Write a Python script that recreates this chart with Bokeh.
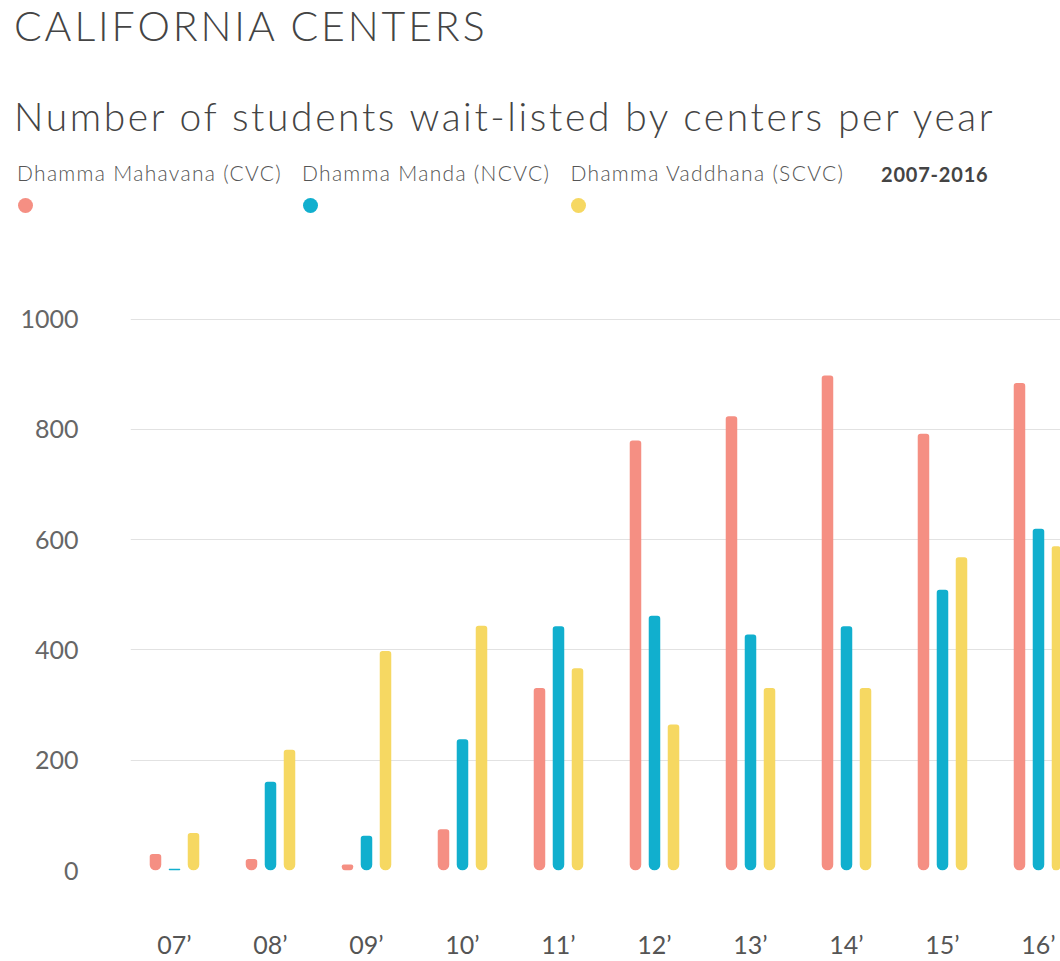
from bokeh.plotting import figure
from bokeh.layouts import column
from bokeh.models import Range1d, FixedTicker, ColumnDataSource, Div
from bokeh.transform import dodge
from bokeh.embed import file_html
from bokeh.resources import INLINE

# ---- data ----
years = ["07’", "08’", "09’", "10’", "11’", "12’", "13’", "14’", "15’", "16’"]
cvc = [30, 21, 11, 75, 331, 780, 824, 898, 792, 884]
ncvc = [3, 161, 63, 238, 443, 462, 428, 443, 509, 620]
scvc = [68, 219, 398, 444, 367, 265, 331, 331, 568, 588]
series_names = ["Dhamma Mahavana (CVC)", "Dhamma Manda (NCVC)", "Dhamma Vaddhana (SCVC)"]
colors = ["#F58F83", "#11AFCE", "#F6D862"]
y_ticks = [0, 200, 400, 600, 800, 1000]
period = "2007-2016"
title = "CALIFORNIA CENTERS"
subtitle = "Number of students wait-listed by centers per year"

FONT = "Lato"

# ---- header (HTML) ----
def txt(s, left, baseline, size, color, weight=300, spacing=0.0, lh=1.2):
    # baseline offset inside a line box of height lh*size for Lato (ascent .987, descent .213)
    top = baseline - (0.987 + (lh - 1.2) / 2) * size
    return (f'<div style="position:absolute;left:{left}px;top:{top:.1f}px;font-family:Lato,sans-serif;'
            f'font-size:{size}px;line-height:{lh};font-weight:{weight};color:{color};'
            f'letter-spacing:{spacing}px;white-space:nowrap;">{s}</div>')

def dot(cx, cy, d, color):
    return (f'<div style="position:absolute;left:{cx - d / 2}px;top:{cy - d / 2}px;width:{d}px;'
            f'height:{d}px;border-radius:50%;background:{color};"></div>')

parts = [txt(title, 14, 41, 41, "#444444", 300, 2.9),
         txt(subtitle, 14, 131, 39, "#444444", 300, 2.6)]
for name, lx, dx, col in zip(series_names, [17, 302, 570.5], [25.5, 310, 578], colors):
    parts.append(txt(name, lx, 181, 21, "#555555", 300, 1.3))
    parts.append(dot(dx, 205, 15, col))
parts.append(txt(period, 881, 182, 20, "#444444", 700, 0.8))
html = ('<div style="position:relative;width:1060px;height:250px;margin:0;padding:0;">'
        + "".join(parts) + "</div>")
header = Div(text=html, width=1060, height=250, margin=(0, 0, 0, 0))

# ---- chart ----
src = ColumnDataSource(dict(x=list(range(len(years))), cvc=cvc, ncvc=ncvc, scvc=scvc))
p = figure(width=1060, height=711, x_range=Range1d(-0.4583, 9.2292), y_range=Range1d(0, 1052),
           output_backend="svg", toolbar_location=None,
           min_border_left=130, min_border_right=0, min_border_top=40, min_border_bottom=84)
p.outline_line_color = None

offs = [-0.198, 0.0, 0.198]
for key, off, col in zip(["cvc", "ncvc", "scvc"], offs, colors):
    p.vbar(x=dodge("x", off), top=key, bottom=0, width=0.12, source=src,
           fill_color=col, line_color=None, border_radius=(3, 3, 6, 6))

p.xgrid.visible = False
p.ygrid.grid_line_color = "#E2E2E2"
p.ygrid.ticker = FixedTicker(ticks=y_ticks)

p.yaxis.ticker = FixedTicker(ticks=y_ticks)
p.yaxis.axis_line_color = None
p.yaxis.major_tick_line_color = None
p.yaxis.minor_tick_line_color = None
p.yaxis.major_label_standoff = 46
p.yaxis.major_label_text_font = FONT
p.yaxis.major_label_text_font_size = "25px"
p.yaxis.major_label_text_color = "#666666"

p.xaxis.ticker = FixedTicker(ticks=list(range(len(years))))
p.xaxis.major_label_overrides = {i: y for i, y in enumerate(years)}
p.xaxis.axis_line_color = None
p.xaxis.major_tick_line_color = None
p.xaxis.minor_tick_line_color = None
p.xaxis.major_label_standoff = 52
p.xaxis.major_label_text_font = FONT
p.xaxis.major_label_text_font_size = "25px"
p.xaxis.major_label_text_color = "#555555"

layout = column(header, p, spacing=0)
open("out.html", "w").write(file_html(layout, INLINE))
